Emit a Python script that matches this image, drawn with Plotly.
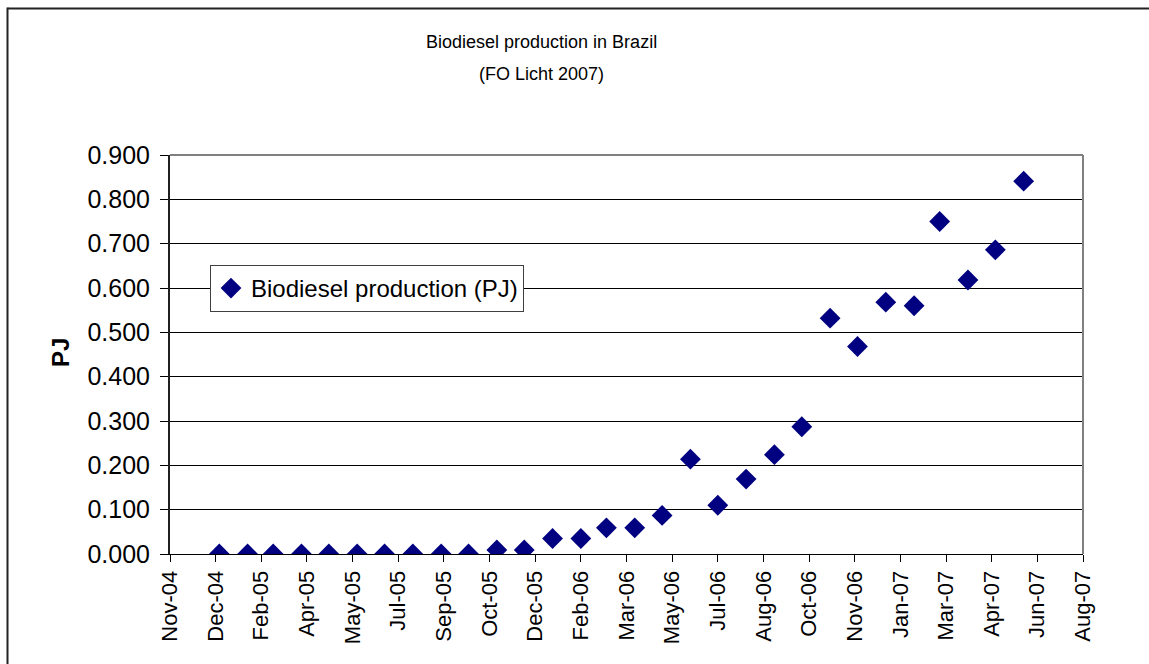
import plotly.graph_objects as go

# Data (monthly, first of month)
dates = [
    "2005-01-01", "2005-02-01", "2005-03-01", "2005-04-01", "2005-05-01", "2005-06-01",
    "2005-07-01", "2005-08-01", "2005-09-01", "2005-10-01", "2005-11-01", "2005-12-01",
    "2006-01-01", "2006-02-01", "2006-03-01", "2006-04-01", "2006-05-01", "2006-06-01",
    "2006-07-01", "2006-08-01", "2006-09-01", "2006-10-01", "2006-11-01", "2006-12-01",
    "2007-01-01", "2007-02-01", "2007-03-01", "2007-04-01", "2007-05-01", "2007-06-01",
]
production_pj = [
    0.0, 0.0, 0.0, 0.0, 0.0, 0.0,
    0.0, 0.0, 0.0, 0.0, 0.009, 0.009,
    0.035, 0.035, 0.059, 0.059, 0.087, 0.214,
    0.110, 0.169, 0.224, 0.287, 0.532, 0.468,
    0.568, 0.560, 0.750, 0.618, 0.686, 0.841,
]
series_name = "Biodiesel production (PJ)"
title_line1 = "Biodiesel production in Brazil"
title_line2 = "(FO Licht 2007)"
y_title = "PJ"

FONT = "Liberation Sans, Arial, sans-serif"
DAY_MS = 86400000

fig = go.Figure()
fig.add_trace(go.Scatter(
    x=dates, y=production_pj, mode="markers", name=series_name,
    marker=dict(symbol="diamond", size=16, color="#000080", line=dict(width=0)),
))

W, H = 1149, 664
L, R, T, B = 170, 66, 155, 110
pw, ph = W - L - R, H - T - B

def px2paper_x(px):
    return (px - L) / pw

def px2paper_y(py):
    return (H - B - py) / ph

fig.update_layout(
    width=W, height=H,
    margin=dict(l=L, r=R, t=T, b=B, pad=0),
    paper_bgcolor="white", plot_bgcolor="white",
    font=dict(family=FONT, color="black"),
    showlegend=True,
    legend=dict(
        x=px2paper_x(210), y=px2paper_y(265), xanchor="left", yanchor="top",
        bgcolor="white", bordercolor="#404040", borderwidth=1,
        font=dict(size=24, family=FONT, color="black"),
    ),
    xaxis=dict(
        type="date",
        range=["2004-11-08", "2007-08-05"],
        tick0="2004-11-08", dtick=50 * DAY_MS,
        tickformat="%b-%y", tickangle=-90,
        showgrid=False, zeroline=False,
        showline=True, linecolor="black", linewidth=1,
        ticks="outside", ticklen=7, tickcolor="black",
        tickfont=dict(size=22, family=FONT, color="black"),
    ),
    yaxis=dict(
        range=[0, 0.9], dtick=0.1, tickformat=".3f",
        showgrid=True, gridcolor="black", gridwidth=1,
        zeroline=False,
        showline=True, linecolor="#202020", linewidth=2,
        ticks="outside", ticklen=8, tickcolor="black",
        ticklabelstandoff=5,
        tickfont=dict(size=25, family=FONT, color="black"),
    ),
    shapes=[
        # plot area top/right border (gray)
        dict(type="line", xref="paper", yref="paper", x0=0, x1=1, y0=1, y1=1,
             line=dict(color="#808080", width=2)),
        dict(type="line", xref="paper", yref="paper", x0=1, x1=1, y0=0, y1=1,
             line=dict(color="#808080", width=2)),
        # chart area outer border (top and left visible)
        dict(type="line", xref="paper", yref="paper",
             x0=px2paper_x(7.5), x1=px2paper_x(W + 20),
             y0=px2paper_y(8.5), y1=px2paper_y(8.5),
             line=dict(color="#222222", width=2)),
        dict(type="line", xref="paper", yref="paper",
             x0=px2paper_x(7.5), x1=px2paper_x(7.5),
             y0=px2paper_y(7.5), y1=px2paper_y(H + 20),
             line=dict(color="#222222", width=2)),
    ],
    annotations=[
        dict(text=title_line1, xref="paper", yref="paper", x=px2paper_x(541), y=px2paper_y(42),
             xanchor="center", yanchor="middle", showarrow=False,
             font=dict(size=18, family=FONT, color="black")),
        dict(text=title_line2, xref="paper", yref="paper", x=px2paper_x(541), y=px2paper_y(74),
             xanchor="center", yanchor="middle", showarrow=False,
             font=dict(size=18, family=FONT, color="black")),
        dict(text="<b>" + y_title + "</b>", xref="paper", yref="paper",
             x=px2paper_x(60), y=px2paper_y(353), textangle=-90,
             xanchor="center", yanchor="middle", showarrow=False,
             font=dict(size=24, family=FONT, color="black")),
    ],
)

fig.write_html(
    "out.html",
    config={"displayModeBar": False},
    post_script="document.body.style.margin='0';document.documentElement.style.overflow='hidden';document.body.style.overflow='hidden';",
)
